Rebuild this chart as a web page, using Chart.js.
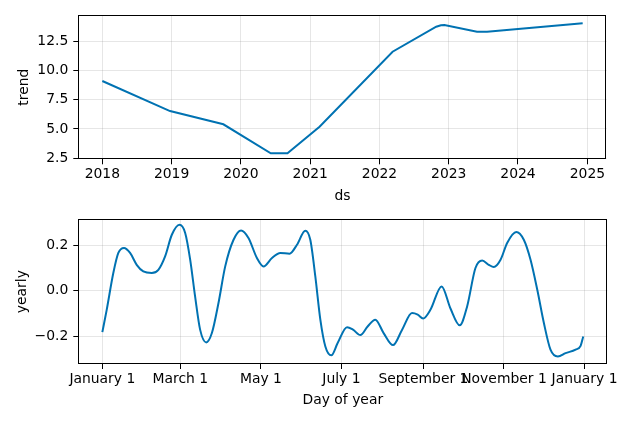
<!DOCTYPE html>
<html>
<head>
<meta charset="utf-8">
<script src="https://cdn.jsdelivr.net/npm/chart.js@4/dist/chart.umd.min.js"></script>
<style>
  html, body { margin: 0; padding: 0; background: #fff; }
  #wrap { position: relative; width: 634px; height: 422px; }
  canvas { position: absolute; left: 0; }
  #c1 { top: 0; }
  #c2 { top: 211px; }
</style>
</head>
<body>
<div id="wrap">
  <canvas id="c1" width="634" height="211"></canvas>
  <canvas id="c2" width="634" height="211"></canvas>
</div>
<script>
// ---- Trend panel data (x = days since 2018-01-01) ----
const trendDays   = [0, 357, 638, 888, 976, 1145, 1530, 1760, 1785, 1803, 1975, 2028, 2532];
const trendValues = [9.09, 6.53, 5.40, 2.93, 2.93, 5.19, 11.59, 13.72, 13.84, 13.86, 13.29, 13.29, 14.01];
const trendTickDays   = [0, 365, 730, 1096, 1461, 1826, 2191, 2557];
const trendTickLabels = ['2018', '2019', '2020', '2021', '2022', '2023', '2024', '2025'];
const trendYTicks     = [2.5, 5.0, 7.5, 10.0, 12.5];

// ---- Yearly panel data (x = day of year) ----
const yearlyDays = [0, 3.3, 8.3, 12.1, 16.4, 21, 26, 31, 37.4, 42.4, 47.5, 52.6, 58.4, 62.7, 66.5, 70.2, 74, 78.6, 82.9, 87.9,
  93, 99.3, 105, 110.6, 117, 122, 128.4, 134.7, 141.7, 147.3, 153.6, 157.4, 161.2, 165, 168.8, 173.3, 178.1, 185.2, 189.7, 195.3,
  200.8, 206.6, 212.9, 220, 226.9, 234.4, 238.7, 242.8, 248.3, 256.8, 263.5, 270.5, 276.1, 282.4, 287.5, 292.5, 296.3, 301.4, 306.4, 313.3,
  319, 324.1, 329.2, 334.2, 339.2, 344.8, 350.6, 358.2, 362, 364];
const yearlyValues = [-0.182, -0.084, 0.078, 0.166, 0.188, 0.166, 0.114, 0.085, 0.078, 0.092, 0.151, 0.246, 0.29, 0.254, 0.136, -0.025, -0.171, -0.227, -0.186, -0.054,
  0.107, 0.224, 0.265, 0.232, 0.144, 0.107, 0.144, 0.166, 0.163, 0.202, 0.264, 0.224, 0.063, -0.127, -0.245, -0.284, -0.23, -0.16, -0.171, -0.195,
  -0.157, -0.127, -0.186, -0.239, -0.171, -0.098, -0.105, -0.122, -0.084, 0.019, -0.078, -0.152, -0.069, 0.1, 0.133, 0.114, 0.104, 0.136, 0.21, 0.258,
  0.224, 0.136, 0.004, -0.142, -0.259, -0.289, -0.274, -0.259, -0.242, -0.201];
const yearlyTickDays   = [0, 59, 120, 181, 243, 304, 365];
const yearlyTickLabels = ['January 1', 'March 1', 'May 1', 'July 1', 'September 1', 'November 1', 'January 1'];
const yearlyYTicks     = [-0.2, 0.0, 0.2];

Chart.defaults.font.family = '"DejaVu Sans", sans-serif';
Chart.defaults.font.size = 13.9;
Chart.defaults.color = '#000';

const LINE = '#0072B2';
const GRID = 'rgba(128,128,128,0.2)';

const boxPlugin = {
  id: 'box',
  afterDraw(chart) {
    const a = chart.chartArea, ctx = chart.ctx;
    ctx.save();
    ctx.strokeStyle = '#000';
    ctx.lineWidth = 1;
    ctx.strokeRect(Math.round(a.left) + 0.5, Math.round(a.top) + 0.5,
                   Math.round(a.right - a.left) - 1, Math.round(a.bottom - a.top) - 1);
    ctx.restore();
  }
};

function zeroPad(s) { s.paddingLeft = 0; s.paddingRight = 0; s.paddingTop = 0; s.paddingBottom = 0; }

function makeChart(id, cfg) {
  const pts = cfg.xs.map((x, i) => ({ x: x, y: cfg.ys[i] }));
  return new Chart(document.getElementById(id), {
    type: 'line',
    data: { datasets: [{
      data: pts, borderColor: LINE, borderWidth: 2, pointRadius: 0,
      fill: false, tension: cfg.smooth ? 0.4 : 0,
      cubicInterpolationMode: cfg.smooth ? 'monotone' : 'default'
    }]},
    plugins: [boxPlugin],
    options: {
      responsive: false, animation: false, devicePixelRatio: 1,
      layout: { padding: cfg.pad },
      plugins: { legend: { display: false }, tooltip: { enabled: false } },
      scales: {
        x: {
          type: 'linear', min: cfg.xmin, max: cfg.xmax,
          afterFit(s) { s.height = cfg.xh; zeroPad(s); },
          afterBuildTicks(s) { s.ticks = cfg.xt.map(v => ({ value: v })); },
          ticks: {
            autoSkip: false, maxRotation: 0, minRotation: 0, padding: cfg.xpad,
            callback: (v) => { const i = cfg.xt.indexOf(v); return i >= 0 ? cfg.xl[i] : ''; }
          },
          grid: { color: GRID, lineWidth: 1, tickLength: 5, tickColor: '#000', tickWidth: 1 },
          border: { display: false },
          title: { display: true, text: cfg.xtitle, padding: { top: 0, bottom: cfg.xtpad } }
        },
        y: {
          type: 'linear', min: cfg.ymin, max: cfg.ymax,
          afterFit(s) { s.width = 78.3; zeroPad(s); },
          afterBuildTicks(s) { s.ticks = cfg.yt.map(v => ({ value: v })); },
          ticks: {
            padding: 5,
            callback: (v) => (v < 0 ? '\u2212' + Math.abs(v).toFixed(1) : v.toFixed(1))
          },
          grid: { color: GRID, lineWidth: 1, tickLength: 5, tickColor: '#000', tickWidth: 1 },
          border: { display: false },
          title: { display: true, text: cfg.ytitle, padding: { top: cfg.ytpad, bottom: 0 } }
        }
      }
    }
  });
}

makeChart('c1', {
  xs: trendDays, ys: trendValues, smooth: false,
  xmin: -126.6, xmax: 2658.6, ymin: 2.415, ymax: 14.72,
  xt: trendTickDays, xl: trendTickLabels, yt: trendYTicks,
  pad: { top: 15, right: 27.3, left: 0, bottom: 0 }, xh: 51.7, xpad: 2,
  xtitle: 'ds', xtpad: 6, ytitle: 'trend', ytpad: 16
});

makeChart('c2', {
  xs: yearlyDays, ys: yearlyValues, smooth: true,
  xmin: -18.2, xmax: 382.2, ymin: -0.322, ymax: 0.314,
  xt: yearlyTickDays, xl: yearlyTickLabels, yt: yearlyYTicks,
  pad: { top: 8.3, right: 26.7, left: 0, bottom: 0 }, xh: 58, xpad: 2,
  xtitle: 'Day of year', xtpad: 13, ytitle: 'yearly', ytpad: 14
});
</script>
</body>
</html>
